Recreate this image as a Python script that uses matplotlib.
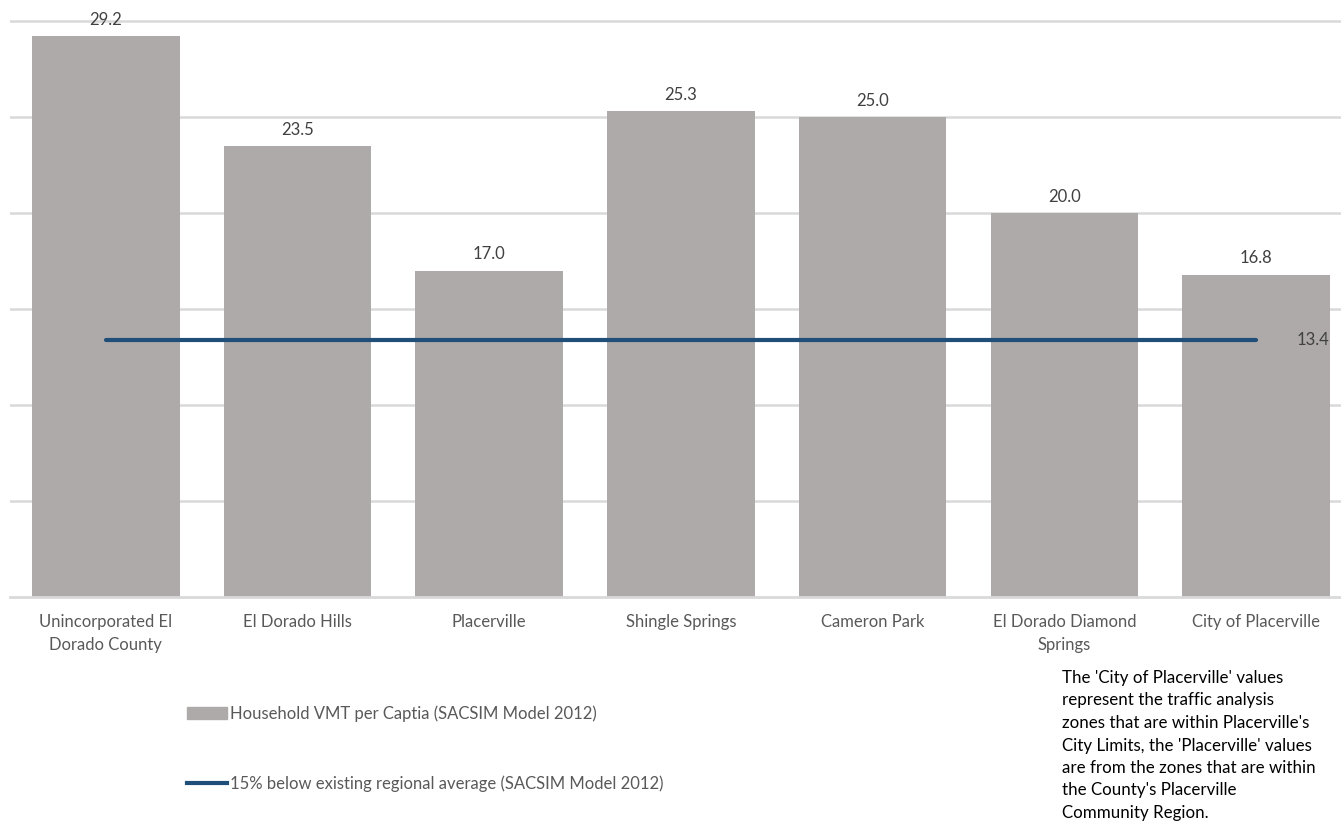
import matplotlib.pyplot as plt
from matplotlib.patches import Patch
from matplotlib.lines import Line2D

# --- Data ---
areas = ["Unincorporated El\nDorado County", "El Dorado Hills", "Placerville",
         "Shingle Springs", "Cameron Park", "El Dorado Diamond\nSprings",
         "City of Placerville"]
vmt_per_capita = [29.2, 23.5, 17.0, 25.3, 25.0, 20.0, 16.8]
regional_target = [13.4] * len(areas)

bar_color = "#AEAAA9"
line_color = "#1F4E79"
grid_color = "#D9D9D9"

plt.rcParams["font.family"] = ["Lato", "DejaVu Sans"]

fig = plt.figure(figsize=(13.41, 8.23), dpi=100)
# axes in pixel terms: x 10..1341, y 0..597 (from top)
ax = fig.add_axes([10 / 1341, (823 - 597) / 823, 1331 / 1341, 597 / 823])

x = list(range(len(areas)))
bars = ax.bar(x, vmt_per_capita, width=0.77, color=bar_color, zorder=2)
ax.plot(x, regional_target, color=line_color, linewidth=3, solid_capstyle="round", zorder=3)

# value labels
for xi, v in zip(x, vmt_per_capita):
    ax.annotate(f"{v:.1f}", (xi, v), xytext=(0, 6), textcoords="offset points",
                ha="center", va="bottom", fontsize=12, color="#404040", clip_on=False)
ax.annotate(f"{regional_target[-1]:.1f}", (x[-1], regional_target[-1]), xytext=(29, 0),
            textcoords="offset points", ha="left", va="center", fontsize=12, color="#404040")

ax.set_xlim(-0.5, 6.443)
ax.set_ylim(0, 31.1)
ax.set_yticks([5, 10, 15, 20, 25, 30])
ax.yaxis.grid(True, color=grid_color, linewidth=1.8, zorder=0)
ax.tick_params(axis="y", left=False, labelleft=False)
ax.tick_params(axis="x", length=0, pad=12, labelsize=12, labelcolor="#595959")
ax.set_xticks(x)
ax.set_xticklabels(areas, linespacing=1.6)
for side in ["top", "right", "left"]:
    ax.spines[side].set_visible(False)
ax.spines["bottom"].set_color(grid_color)
ax.spines["bottom"].set_linewidth(2)

# legend
handles = [Patch(color=bar_color), Line2D([0], [0], color=line_color, linewidth=3)]
labels = ["Household VMT per Captia (SACSIM Model 2012)",
          "15% below existing regional average (SACSIM Model 2012)"]
leg = fig.legend(handles, labels, loc="upper left", bbox_to_anchor=(172 / 1341, 1 - 690 / 823),
                 frameon=False, fontsize=12, labelcolor="#595959", handlelength=2.4,
                 handleheight=0.7, handletextpad=0.18, labelspacing=3.25)

note = ("The 'City of Placerville' values\nrepresent the traffic analysis\n"
        "zones that are within Placerville's\nCity Limits, the 'Placerville' values\n"
        "are from the zones that are within\nthe County's Placerville\nCommunity Region.")
fig.text(1062 / 1341, 1 - 670 / 823, note, ha="left", va="top", fontsize=12.2,
         color="black", linespacing=1.5)

fig.savefig("out.png", dpi=100)
